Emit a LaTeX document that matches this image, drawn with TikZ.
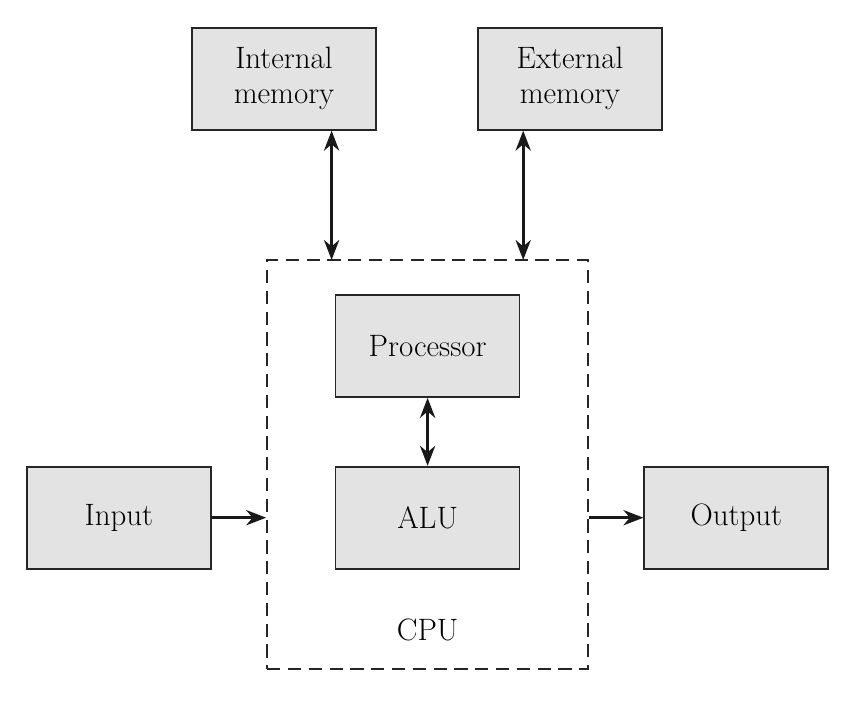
\documentclass[tikz,border=0pt]{standalone}
\usetikzlibrary{positioning}
\usetikzlibrary{arrows.meta}

\begin{document}
\begin{tikzpicture}[>={Stealth[length=5mm, width=3.8mm, inset=1.6mm]}, font=\fontsize{22}{25}\selectfont]
    \tikzstyle{block}=[draw=black!85, fill=black!11, rectangle, minimum width=4.6cm, minimum height=2.55cm, align=center, line width=1.2pt, inner sep=0pt]
    \tikzstyle{frame}=[draw=black!85, rectangle, line width=1.3pt, dash pattern=on 3.3mm off 1.9mm, minimum width=8.025cm, minimum height=10.225cm, inner sep=0pt]
    \tikzstyle{link}=[line width=2pt, draw=black!90]

    \useasboundingbox (0,0) rectangle (21.3,-17.75);

    \node[block] (intmem) at (7.1,-1.97) {Internal\\memory};
    \node[block] (extmem) at (14.25,-1.97) {External\\memory};
    \node[frame] (cpu) at (10.69,-11.615) {};
    \node[block] (proc) at (10.69,-8.65) {Processor};
    \node[block, below=1.7cm of proc] (alu) {ALU};
    \node[block, left=3.075cm of alu] (input) {Input};
    \node[block, right=3.075cm of alu] (output) {Output};
    \node (cpulabel) at (10.69,-15.75) {CPU};

    \coordinate (bus1) at (8.29,-6.5);
    \coordinate (bus2) at (13.08,-6.5);

    \draw[link, <->] (bus1 |- intmem.south) -- (bus1);
    \draw[link, <->] (bus2 |- extmem.south) -- (bus2);
    \draw[link, <->] (proc) -- (alu);
    \draw[link, ->] (input.east) -- (input.east -| cpu.west);
    \draw[link, ->] (output.west -| cpu.east) -- (output.west);
\end{tikzpicture}
\end{document}
